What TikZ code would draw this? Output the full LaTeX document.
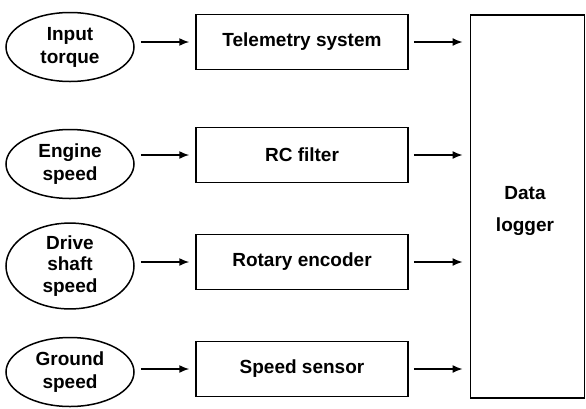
\documentclass[tikz,border=0pt]{standalone}
\usepackage{fontspec}
\setmainfont{Liberation Sans}
\usetikzlibrary{shapes.geometric,arrows.meta}
\begin{document}
\begin{tikzpicture}[x=1pt,y=-1pt,
  every node/.style={font=\fontsize{19}{23}\selectfont\bfseries, line width=1.5pt},
  src/.style={draw, ellipse, minimum width=128pt, minimum height=69pt, inner sep=0pt, align=center},
  blk/.style={draw, rectangle, minimum width=212pt, minimum height=55pt, inner sep=0pt},
  arr/.style={line width=1.5pt, -{Latex[length=10pt,width=8pt]}, shorten <=6pt, shorten >=6pt}]
\useasboundingbox (0,0) rectangle (586,408);
\node[src] (e1) at (70,47) {Input\\torque};
\node[src] (e2) at (70,164) {Engine\\speed};
\node[src, font=\fontsize{19}{21.5}\selectfont\bfseries] (e3) at (70,266) {Drive\\shaft\\speed};
\node[src] (e4) at (70,372) {Ground\\speed};
\node[blk] (b1) at (302,42) {Telemetry system};
\node[blk] (b2) at (302,155) {RC filter};
\node[blk] (b3) at (302,262) {Rotary encoder};
\node[blk] (b4) at (302,369) {Speed sensor};
\node[draw, rectangle, minimum width=114pt, minimum height=383pt, inner sep=0pt] (dl) at (527.3,206.5) {};
\node[align=center, font=\fontsize{19}{32}\selectfont\bfseries] (dlt) at (525,211) {Data\\logger};
\draw[arr] (e1.east |- b1.west) -- (b1.west);
\draw[arr] (e2.east |- b2.west) -- (b2.west);
\draw[arr] (e3.east |- b3.west) -- (b3.west);
\draw[arr] (e4.east |- b4.west) -- (b4.west);
\draw[arr, shorten >=7pt, shorten <=5pt] (b1.east) -- (b1.east -| dl.west);
\draw[arr, shorten >=7pt, shorten <=5pt] (b2.east) -- (b2.east -| dl.west);
\draw[arr, shorten >=7pt, shorten <=5pt] (b3.east) -- (b3.east -| dl.west);
\draw[arr, shorten >=7pt, shorten <=5pt] (b4.east) -- (b4.east -| dl.west);
\end{tikzpicture}
\end{document}
